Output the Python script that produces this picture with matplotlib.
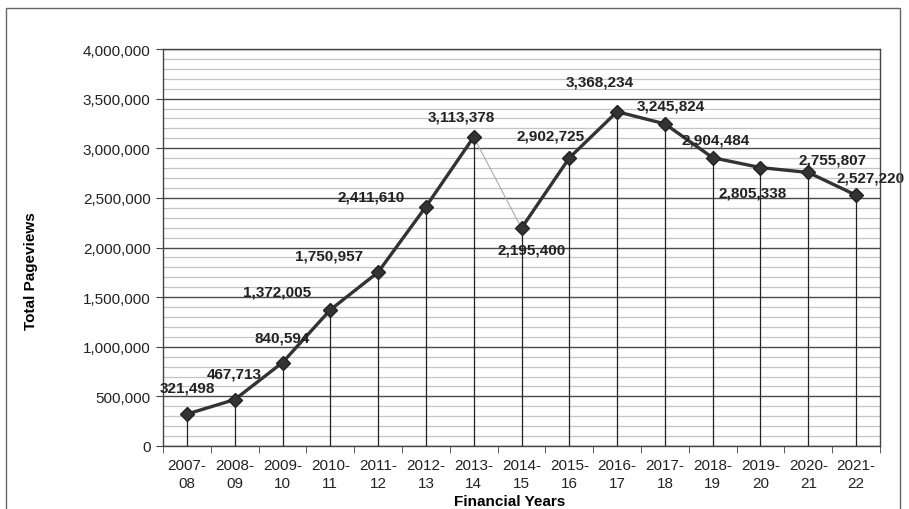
import matplotlib.pyplot as plt
from matplotlib.patches import Rectangle
from matplotlib.ticker import FuncFormatter, MultipleLocator, FixedLocator

plt.rcParams['font.family'] = ['Liberation Sans', 'DejaVu Sans']

years = ["2007-\n08", "2008-\n09", "2009-\n10", "2010-\n11", "2011-\n12",
         "2012-\n13", "2013-\n14", "2014-\n15", "2015-\n16", "2016-\n17",
         "2017-\n18", "2018-\n19", "2019-\n20", "2020-\n21", "2021-\n22"]
pageviews = [321498, 467713, 840594, 1372005, 1750957, 2411610, 3113378,
             2195400, 2902725, 3368234, 3245824, 2904484, 2805338, 2755807,
             2527220]

# where each value label sits relative to its point (pixels)
label_offsets = [(0, 27), (0, 26), (0, 25), (-53, 18), (-49, 17), (-55, 10),
                 (-12, 20), (10, -21), (-19, 22), (-17, 30), (6, 18), (3, 18),
                 (-8, -25), (24, 13), (14, 18)]

x = list(range(len(years)))
gap = 6  # the 2013-14 -> 2014-15 step is drawn as a thin grey link

fig = plt.figure(figsize=(9.09, 5.10), dpi=100)
ax = fig.add_axes([163 / 909, 63 / 510, 717 / 909, 397 / 510])

# outer chart frame
fig.patches.append(Rectangle((6 / 909, -0.05), 894 / 909, 1.05 - 9 / 510,
                             transform=fig.transFigure, fill=False,
                             edgecolor='#666666', lw=1.0, zorder=0))

ax.set_xlim(-0.5, len(years) - 0.5)
ax.set_ylim(0, 4000000)

ax.yaxis.set_major_locator(MultipleLocator(500000))
ax.yaxis.set_minor_locator(MultipleLocator(100000))
ax.grid(which='major', axis='y', color='#4a4a4a', lw=1.0)
ax.grid(which='minor', axis='y', color='#c4c4c4', lw=0.9)
ax.set_axisbelow(True)

ax.vlines(x, 0, pageviews, color='#222222', lw=0.9, zorder=2)

ax.plot(x[gap:gap + 2], pageviews[gap:gap + 2], color='#aaaaaa', lw=0.8, zorder=3)
ax.plot(x[:gap + 1], pageviews[:gap + 1], color='#333333', lw=2.4,
        marker='D', ms=7, mfc='#333333', mec='#222222', zorder=4)
ax.plot(x[gap + 1:], pageviews[gap + 1:], color='#333333', lw=2.4,
        marker='D', ms=7, mfc='#333333', mec='#222222', zorder=4)

for xi, v, (dx, dy) in zip(x, pageviews, label_offsets):
    ax.annotate(f"{v:,}", (xi, v), xytext=(dx, dy), textcoords='offset pixels',
                ha='center', va='center', fontsize=11, fontweight='bold',
                color='#222222', zorder=5)

ax.yaxis.set_major_formatter(FuncFormatter(lambda v, p: f"{int(v):,}"))
ax.set_xticks(x)
ax.set_xticklabels(years, linespacing=1.35)
ax.xaxis.set_minor_locator(FixedLocator([i + 0.5 for i in range(-1, len(years))]))
ax.tick_params(axis='x', which='major', length=0, pad=9, labelsize=11,
               labelcolor='#222222')
ax.tick_params(axis='x', which='minor', length=5, direction='out', color='#444444')
ax.tick_params(axis='y', which='major', length=5, direction='out', pad=4,
               labelsize=11, labelcolor='#222222', color='#444444')
ax.tick_params(axis='y', which='minor', length=0)

for s in ax.spines.values():
    s.set_color('#444444')
    s.set_linewidth(1.0)

ax.set_ylabel("Total Pageviews", fontsize=11, fontweight='bold', va='center')
ax.yaxis.set_label_coords((31 - 163) / 717, (447 - 271) / 397)
ax.set_xlabel("Financial Years", fontsize=11, fontweight='bold', va='top')
ax.xaxis.set_label_coords(347 / 717, -48 / 397)

fig.savefig("out.png", dpi=100)
